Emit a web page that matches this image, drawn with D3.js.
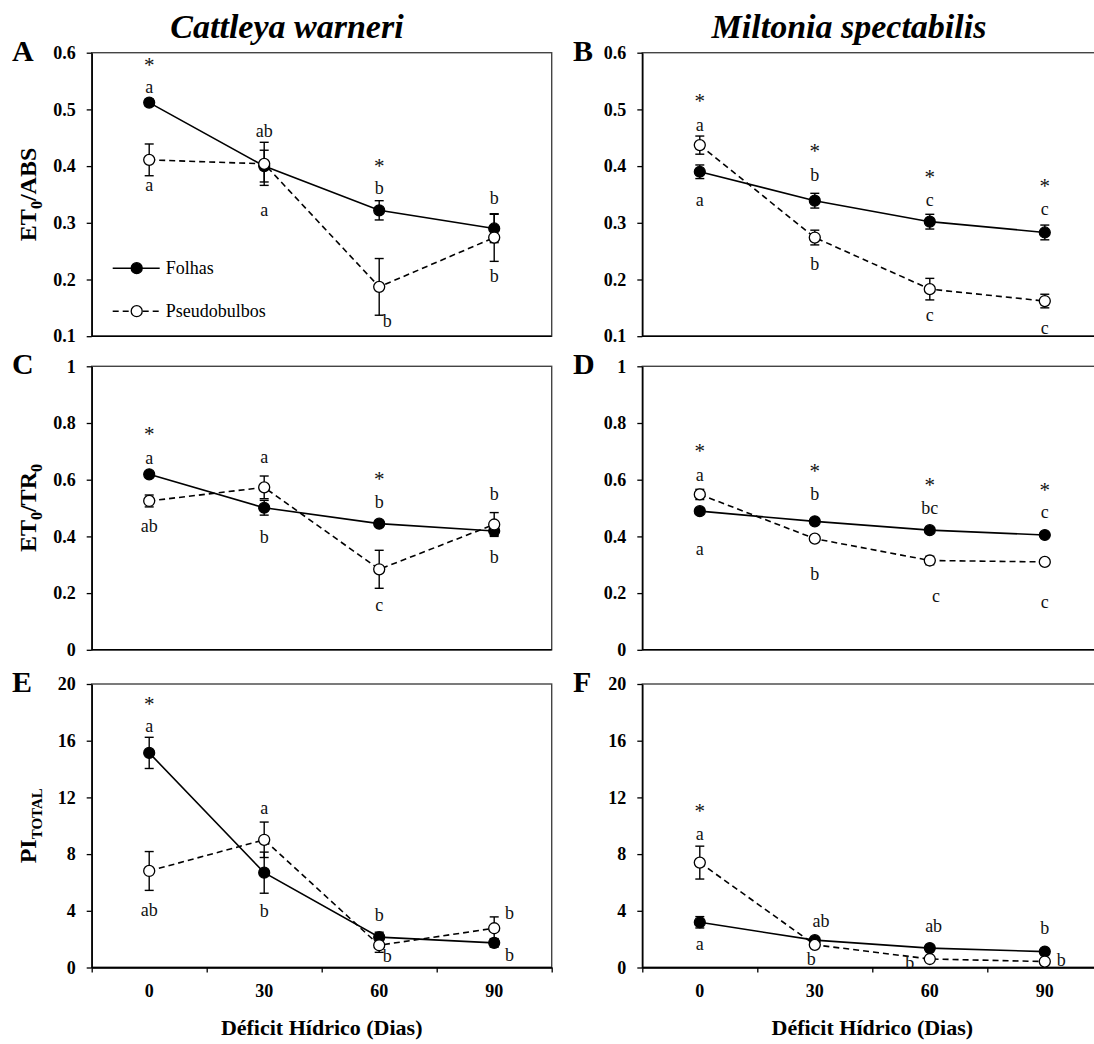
<!DOCTYPE html>
<html>
<head>
<meta charset="utf-8">
<script src="https://cdn.jsdelivr.net/npm/d3@7"></script>
<style>
  body { margin: 0; background: #fff; }
  svg { display: block; font-family: "Liberation Serif", "Times New Roman", serif; }
</style>
</head>
<body>
<svg id="chart" width="1094" height="1044"></svg>
<script>
const days = [0, 30, 60, 90];

// A - Cattleya warneri, ET0/ABS
const cwAbsFolhas = [0.512, 0.400, 0.322, 0.290];
const cwAbsFolhasErr = [0.006, 0.028, 0.017, 0.025];
const cwAbsPseudo = [0.411, 0.404, 0.187, 0.274];
const cwAbsPseudoErr = [0.028, 0.038, 0.050, 0.042];
const cwAbsLetters = [[0, 0.587, "*"], [0, 0.539, "a"], [0, 0.365, "a"], [30, 0.461, "ab"], [30, 0.321, "a"],
  [60, 0.409, "*"], [60, 0.361, "b"], [62.1, 0.125, "b"], [90, 0.343, "b"], [90, 0.205, "b"]];

// B - Miltonia spectabilis, ET0/ABS
const msAbsFolhas = [0.390, 0.339, 0.302, 0.283];
const msAbsFolhasErr = [0.012, 0.013, 0.013, 0.013];
const msAbsPseudo = [0.437, 0.274, 0.183, 0.162];
const msAbsPseudoErr = [0.016, 0.013, 0.019, 0.012];
const msAbsLetters = [[0, 0.523, "*"], [0, 0.471, "a"], [0, 0.339, "a"], [30, 0.435, "*"], [30, 0.384, "b"], [30, 0.227, "b"],
  [60, 0.388, "*"], [60, 0.339, "c"], [60, 0.136, "c"], [90, 0.373, "*"], [90, 0.324, "c"], [90, 0.114, "c"]];

// C - Cattleya warneri, ET0/TR0
const cwTrFolhas = [0.619, 0.501, 0.445, 0.419];
const cwTrFolhasErr = [0.008, 0.026, 0.010, 0.015];
const cwTrPseudo = [0.525, 0.573, 0.284, 0.442];
const cwTrPseudoErr = [0.021, 0.040, 0.067, 0.042];
const cwTrLetters = [[0, 0.776, "*"], [0, 0.674, "a"], [0, 0.433, "ab"], [30, 0.678, "a"], [30, 0.395, "b"],
  [60, 0.619, "*"], [60, 0.518, "b"], [60, 0.156, "c"], [90, 0.548, "b"], [90, 0.325, "b"]];

// D - Miltonia spectabilis, ET0/TR0
const msTrFolhas = [0.489, 0.453, 0.422, 0.405];
const msTrFolhasErr = [0.010, 0.008, 0.008, 0.008];
const msTrPseudo = [0.548, 0.392, 0.315, 0.310];
const msTrPseudoErr = [0.018, 0.010, 0.015, 0.010];
const msTrLetters = [[0, 0.716, "*"], [0, 0.615, "a"], [0, 0.355, "a"], [30, 0.647, "*"], [30, 0.548, "b"], [30, 0.266, "b"],
  [60, 0.598, "*"], [60, 0.497, "bc"], [61.6, 0.189, "c"], [90, 0.580, "*"], [90, 0.483, "c"], [90, 0.166, "c"]];

// E - Cattleya warneri, PI total
const cwPiFolhas = [15.14, 6.69, 2.14, 1.74];
const cwPiFolhasErr = [1.10, 1.45, 0.35, 0.30];
const cwPiPseudo = [6.81, 9.01, 1.57, 2.77];
const cwPiPseudoErr = [1.37, 1.25, 0.50, 0.80];
const cwPiLetters = [[0, 18.9, "*"], [0, 17.0, "a"], [0, 4.04, "ab"], [30, 11.2, "a"], [30, 3.92, "b"],
  [60, 3.69, "b"], [62.1, 0.75, "b"], [94, 3.8, "b"], [94, 0.82, "b"]];

// F - Miltonia spectabilis, PI total
const msPiFolhas = [3.19, 1.93, 1.37, 1.12];
const msPiFolhasErr = [0.40, 0.15, 0.15, 0.15];
const msPiPseudo = [7.40, 1.60, 0.60, 0.42];
const msPiPseudoErr = [1.16, 0.15, 0.10, 0.10];
const msPiLetters = [[0, 11.35, "*"], [0, 9.37, "a"], [0, 1.63, "a"], [31.6, 3.26, "ab"], [29.1, 0.53, "b"],
  [61, 2.9, "ab"], [54.8, 0.3, "b"], [90, 2.72, "b"], [94.3, 0.47, "b"]];

const absTicks = [0.1, 0.2, 0.3, 0.4, 0.5, 0.6];
const trTicks = [0, 0.2, 0.4, 0.6, 0.8, 1];
const piTicks = [0, 4, 8, 12, 16, 20];
const bandEdges = [-15, 15, 45, 75, 105];

const speciesTitles = ["Cattleya warneri", "Miltonia spectabilis"];
const xTitle = "Déficit Hídrico (Dias)";
const legendNames = ["Folhas", "Pseudobulbos"];

const svg = d3.select("#chart");
const serif = '"Liberation Serif", "Times New Roman", serif';
const pw = 460, ph = 283.5;
const colLeft = [91.7, 642.3];
const rowTop = [52.7, 366.3, 684];

const panels = [
  { tag: "A", col: 0, row: 0, dom: [0.1, 0.6], ticks: absTicks, f: cwAbsFolhas, fe: cwAbsFolhasErr, p: cwAbsPseudo, pe: cwAbsPseudoErr, L: cwAbsLetters, yl: ["ET", "0", "/ABS"], legend: true },
  { tag: "B", col: 1, row: 0, dom: [0.1, 0.6], ticks: absTicks, f: msAbsFolhas, fe: msAbsFolhasErr, p: msAbsPseudo, pe: msAbsPseudoErr, L: msAbsLetters },
  { tag: "C", col: 0, row: 1, dom: [0, 1], ticks: trTicks, f: cwTrFolhas, fe: cwTrFolhasErr, p: cwTrPseudo, pe: cwTrPseudoErr, L: cwTrLetters, yl: ["ET", "0", "/TR", "0"] },
  { tag: "D", col: 1, row: 1, dom: [0, 1], ticks: trTicks, f: msTrFolhas, fe: msTrFolhasErr, p: msTrPseudo, pe: msTrPseudoErr, L: msTrLetters },
  { tag: "E", col: 0, row: 2, dom: [0, 20], ticks: piTicks, f: cwPiFolhas, fe: cwPiFolhasErr, p: cwPiPseudo, pe: cwPiPseudoErr, L: cwPiLetters, yl: ["PI", "TOTAL"], xaxis: true },
  { tag: "F", col: 1, row: 2, dom: [0, 20], ticks: piTicks, f: msPiFolhas, fe: msPiFolhasErr, p: msPiPseudo, pe: msPiPseudoErr, L: msPiLetters, xaxis: true }
];

// species titles
svg.selectAll("text.sp").data(speciesTitles).enter().append("text")
  .attr("class", "sp")
  .attr("x", (d, i) => [287, 849][i])
  .attr("y", 38)
  .attr("text-anchor", "middle")
  .attr("font-family", serif)
  .attr("font-weight", "bold")
  .attr("font-style", "italic")
  .attr("font-size", 34)
  .text(d => d);

panels.forEach(cfg => {
  const left = colLeft[cfg.col], top = rowTop[cfg.row];
  const g = svg.append("g").attr("transform", `translate(${left},${top})`);
  const x = d3.scaleLinear().domain([-15, 105]).range([0, pw]);
  const y = d3.scaleLinear().domain(cfg.dom).range([ph, 0]);

  g.append("rect").attr("width", pw).attr("height", ph)
    .attr("fill", "none").attr("stroke", "#444").attr("stroke-width", 1.4);

  const ya = g.append("g").call(d3.axisLeft(y).tickValues(cfg.ticks).tickSize(5).tickSizeOuter(0)
    .tickPadding(11).tickFormat(d3.format("~g")));
  ya.attr("font-family", serif).attr("font-size", 18).attr("font-weight", "bold");
  ya.select(".domain").attr("stroke", "#000").attr("stroke-width", 1.5);
  ya.selectAll(".tick line").attr("stroke", "#000").attr("stroke-width", 1.3);

  g.append("line").attr("x1", 0).attr("x2", pw).attr("y1", ph).attr("y2", ph)
    .attr("stroke", "#000").attr("stroke-width", 1.5);

  if (cfg.xaxis) {
    const xa = g.append("g").attr("transform", `translate(0,${ph})`)
      .call(d3.axisBottom(x).tickValues(bandEdges).tickSize(5).tickSizeOuter(0).tickFormat(""));
    xa.select(".domain").attr("stroke", "#000").attr("stroke-width", 1.5);
    xa.selectAll(".tick line").attr("stroke", "#000").attr("stroke-width", 1.3);
    g.selectAll("text.xl").data(days).enter().append("text")
      .attr("class", "xl")
      .attr("x", d => x(d)).attr("y", ph + 29)
      .attr("text-anchor", "middle")
      .attr("font-family", serif).attr("font-size", 18).attr("font-weight", "bold")
      .text(d => d);
    g.append("text").attr("x", pw / 2).attr("y", ph + 67)
      .attr("text-anchor", "middle")
      .attr("font-family", serif).attr("font-size", 22).attr("font-weight", "bold")
      .text(xTitle);
  }

  // panel letter
  svg.append("text").attr("x", cfg.col === 0 ? 12 : 573).attr("y", top + 8)
    .attr("font-family", serif).attr("font-size", 30).attr("font-weight", "bold")
    .text(cfg.tag);

  // y title
  if (cfg.yl) {
    const t = svg.append("text")
      .attr("transform", `translate(${left - 56},${top + ph / 2}) rotate(-90)`)
      .attr("text-anchor", "middle")
      .attr("font-family", serif).attr("font-weight", "bold").attr("font-size", 24);
    cfg.yl.forEach((s, i) => {
      const sub = i % 2 === 1;
      t.append("tspan")
        .attr("font-size", sub ? (s.length > 1 ? 15 : 16) : 24)
        .attr("dy", i === 0 ? 0 : (sub ? 6 : -6))
        .text(s);
    });
  }

  const line = d3.line().x((d, i) => x(days[i])).y(d => y(d));

  g.append("path").datum(cfg.f).attr("d", line)
    .attr("fill", "none").attr("stroke", "#000").attr("stroke-width", 1.6);
  g.append("path").datum(cfg.p).attr("d", line)
    .attr("fill", "none").attr("stroke", "#000").attr("stroke-width", 1.6)
    .attr("stroke-dasharray", "6,4");

  [[cfg.f, cfg.fe], [cfg.p, cfg.pe]].forEach(([vals, errs]) => {
    const eb = g.append("g").attr("stroke", "#000").attr("stroke-width", 1.4);
    vals.forEach((v, i) => {
      const cx = x(days[i]);
      const y0 = y(v - errs[i]), y1 = y(v + errs[i]);
      eb.append("line").attr("x1", cx).attr("x2", cx).attr("y1", y0).attr("y2", y1);
      eb.append("line").attr("x1", cx - 4.5).attr("x2", cx + 4.5).attr("y1", y0).attr("y2", y0);
      eb.append("line").attr("x1", cx - 4.5).attr("x2", cx + 4.5).attr("y1", y1).attr("y2", y1);
    });
  });

  g.selectAll("circle.f").data(cfg.f).enter().append("circle")
    .attr("class", "f")
    .attr("cx", (d, i) => x(days[i])).attr("cy", d => y(d)).attr("r", 5.5)
    .attr("fill", "#000").attr("stroke", "#000").attr("stroke-width", 1.2);
  g.selectAll("circle.p").data(cfg.p).enter().append("circle")
    .attr("class", "p")
    .attr("cx", (d, i) => x(days[i])).attr("cy", d => y(d)).attr("r", 5.5)
    .attr("fill", "#fff").attr("stroke", "#000").attr("stroke-width", 1.3);

  g.selectAll("text.lt").data(cfg.L).enter().append("text")
    .attr("class", "lt")
    .attr("x", d => x(d[0])).attr("y", d => y(d[1]))
    .attr("dy", d => d[2] === "*" ? "0.55em" : "0.3em")
    .attr("text-anchor", "middle")
    .attr("font-family", serif)
    .attr("font-size", d => d[2] === "*" ? 21 : 18)
    .attr("fill", "#111")
    .text(d => d[2]);

  if (cfg.legend) {
    const lg = g.append("g");
    legendNames.forEach((name, i) => {
      const ly = [215.5, 258.5][i];
      lg.append("line").attr("x1", 21).attr("x2", 68).attr("y1", ly).attr("y2", ly)
        .attr("stroke", "#000").attr("stroke-width", 1.6)
        .attr("stroke-dasharray", i ? "6,4" : null);
      lg.append("circle").attr("cx", 45).attr("cy", ly).attr("r", 5.5)
        .attr("fill", i ? "#fff" : "#000").attr("stroke", "#000").attr("stroke-width", 1.3);
      lg.append("text").attr("x", 74).attr("y", ly).attr("dy", "0.33em")
        .attr("font-family", serif).attr("font-size", 18)
        .text(name);
    });
  }
});
</script>
</body>
</html>
